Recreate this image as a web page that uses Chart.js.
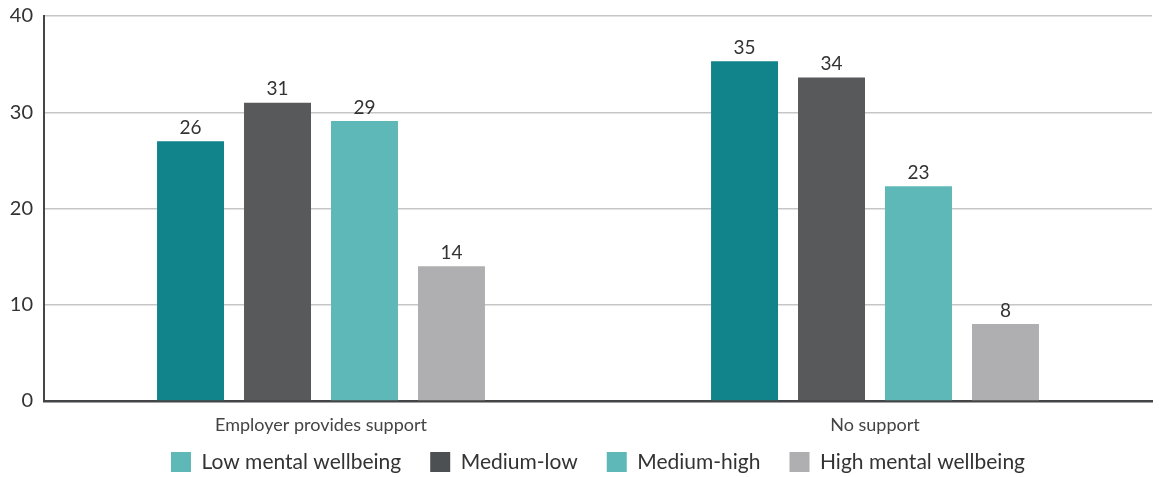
<!DOCTYPE html>
<html>
<head>
<meta charset="utf-8">
<script src="https://cdn.jsdelivr.net/npm/chart.js@4"></script>
<style>
  html, body { margin: 0; padding: 0; background: #fff; }
  #wrap { width: 1160px; height: 477px; }
</style>
</head>
<body>
<div id="wrap"><canvas id="chart" width="1160" height="477"></canvas></div>
<script>
// Chart data
const categories = ['Employer provides support', 'No support'];
const seriesNames = ['Low mental wellbeing', 'Medium-low', 'Medium-high', 'High mental wellbeing'];
// bar heights as drawn in the picture
const lowValues = [27, 35.3];
const medLowValues = [31, 33.6];
const medHighValues = [29.1, 22.3];
const highValues = [14, 8];
// printed labels above bars
const lowLabels = [26, 35];
const medLowLabels = [31, 34];
const medHighLabels = [29, 23];
const highLabels = [14, 8];
const yTicks = [0, 10, 20, 30, 40];

const barColors = ['#10838b', '#58595b', '#5eb8b7', '#afafb1'];
const legendColors = ['#5eb8b7', '#4d5052', '#5eb8b7', '#afafb1'];
const textColor = '#333333';
const FONT = 'Lato, "Open Sans", sans-serif';

const allValues = [lowValues, medLowValues, medHighValues, highValues];
const allLabels = [lowLabels, medLowLabels, medHighLabels, highLabels];

// Draw value labels above each bar
const barLabelPlugin = {
    id: 'barLabels',
    afterDatasetsDraw(chart) {
        const ctx = chart.ctx;
        ctx.save();
        ctx.font = '19px ' + FONT;
        ctx.fillStyle = textColor;
        ctx.textAlign = 'center';
        ctx.textBaseline = 'bottom';
        chart.data.datasets.forEach((ds, i) => {
            chart.getDatasetMeta(i).data.forEach((bar, j) => {
                ctx.fillText(allLabels[i][j], bar.x, bar.y - 4);
            });
        });
        ctx.restore();
    }
};

// Nudge the legend box: a bit higher and centred under the plot
const legendShiftPlugin = {
    id: 'legendShift',
    afterLayout(chart) {
        const lg = chart.legend;
        if (!lg) return;
        lg.top = 422.5;
        lg.bottom = chart.height;
        lg.height = lg.bottom - lg.top;
        lg.left += 22;
        lg.right += 22;
    }
};

new Chart(document.getElementById('chart'), {
    type: 'bar',
    data: {
        labels: categories,
        datasets: seriesNames.map((name, i) => ({
            label: name,
            data: allValues[i],
            backgroundColor: barColors[i],
            borderWidth: 0,
            categoryPercentage: 0.628,
            barPercentage: 0.77
        }))
    },
    options: {
        responsive: false,
        animation: false,
        layout: {
            padding: { top: 16, right: 8, left: 0, bottom: 0 }
        },
        plugins: {
            tooltip: { enabled: false },
            legend: {
                position: 'bottom',
                maxHeight: 40,
                labels: {
                    color: textColor,
                    font: { family: FONT, size: 21 },
                    boxWidth: 20,
                    boxHeight: 20,
                    padding: 29,
                    generateLabels(chart) {
                        return seriesNames.map((name, i) => ({
                            text: name,
                            fillStyle: legendColors[i],
                            strokeStyle: legendColors[i],
                            lineWidth: 0,
                            fontColor: textColor,
                            datasetIndex: i,
                            hidden: false
                        }));
                    }
                }
            }
        },
        scales: {
            x: {
                afterFit(scale) {
                    scale.height = 36;
                },
                grid: { display: false, drawTicks: false },
                border: { color: '#444546', width: 2.5 },
                ticks: {
                    color: '#444',
                    font: { family: FONT, size: 18 },
                    padding: 13
                }
            },
            y: {
                min: 0,
                max: 40,
                afterBuildTicks(scale) {
                    scale.ticks = yTicks.map(v => ({ value: v }));
                },
                afterFit(scale) {
                    scale.width = 44;
                    scale.paddingTop = 0;
                },
                grid: {
                    drawTicks: false,
                    color: ctx => ctx.tick && ctx.tick.value === 0 ? 'rgba(0,0,0,0)' : '#c6c6c6',
                    lineWidth: 1.5
                },
                border: { color: '#444546', width: 2 },
                ticks: {
                    color: textColor,
                    font: { family: FONT, size: 20 },
                    padding: 11
                }
            }
        }
    },
    plugins: [barLabelPlugin, legendShiftPlugin]
});
</script>
</body>
</html>
